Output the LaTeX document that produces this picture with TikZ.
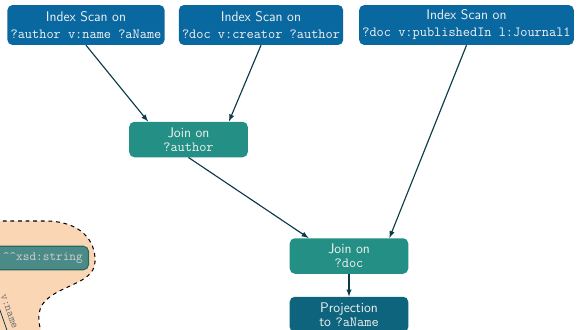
\documentclass[tikz,border=0pt,11pt]{standalone}
\usepackage{fontspec}
\usepackage{tikz}
\usetikzlibrary{arrows}

\definecolor{scanblue}{RGB}{10,104,160}
\definecolor{jointeal}{RGB}{36,143,133}
\definecolor{projteal}{RGB}{13,100,124}
\definecolor{litfill}{RGB}{74,138,135}
\definecolor{litdraw}{RGB}{40,105,100}
\definecolor{blobfill}{RGB}{250,214,180}
\definecolor{arrowteal}{RGB}{12,58,72}
\definecolor{boxtext}{RGB}{242,242,242}
\definecolor{labelgrey}{RGB}{120,120,120}
\def\code#1{\texttt{#1}}

\begin{document}
\begin{tikzpicture}[x=0.02773cm, y=-0.02773cm,
                    every node/.style = {shape=rectangle, rounded corners=4pt,
                      align=center, text=boxtext},
                    scanbox/.style = {fill=scanblue, inner xsep=2.5pt,
                      minimum height=31.5pt,
                      font=\sffamily\fontsize{11}{13.4}\selectfont},
                    joinbox/.style = {fill=jointeal, minimum width=93.5pt,
                      minimum height=28pt,
                      font=\sffamily\fontsize{11}{11.2}\selectfont},
                    projbox/.style = {joinbox, fill=projteal},
                    litbox/.style = {fill=litfill, draw=litdraw, line width=0.8pt,
                      inner xsep=4.5pt, inner ysep=5pt,
                      text width=80pt, align=right,
                      font=\ttfamily\fontsize{10}{12}\selectfont,
                      text=boxtext!85!black},
                    flow/.style = {->, >=latex, draw=arrowteal, line width=0.9pt}]
  \useasboundingbox (0,0) rectangle (577,330);
  \clip (0,0) rectangle (577,330);

  % part of the data graph, bottom left
  \fill[blobfill] (-20,221) -- (45,221)
      .. controls (80,221) and (96,240) .. (95,262)
      .. controls (94,285) and (55,285) .. (42,305)
      .. controls (37,314) and (38,325) .. (44,340) -- (-20,340) -- cycle;
  \draw[dashed, line width=0.8pt] (-20,221) -- (45,221)
      .. controls (80,221) and (96,240) .. (95,262)
      .. controls (94,285) and (55,285) .. (42,305)
      .. controls (37,314) and (38,325) .. (44,340);
  \node[litbox, anchor=east] (lit) at (89,258) {\textasciicircum\textasciicircum xsd:string};
  \coordinate (vtop) at (-20,253);
  \coordinate (vbot) at (9,336);
  \draw[arrowteal, line width=0.6pt] (vtop) -- (vbot)
      node[pos=0.74, sloped, above, inner sep=4pt, text=labelgrey,
           font=\ttfamily\fontsize{9}{11}\selectfont] {v:name};

  % query plan
  \node[scanbox] (scanA) at (86,25)    {Index Scan on\\\code{?author v:name ?aName}};
  \node[scanbox] (scanB) at (261,25)   {Index Scan on\\\code{?doc v:creator ?author}};
  \node[scanbox] (scanC) at (466.5,25) {Index Scan on\\\code{?doc v:publishedIn l:Journal1}};
  \node[joinbox] (joinA) at (188.5,139.5) {Join on\\\code{?author}};
  \node[joinbox] (joinB) at (349,256)     {Join on\\\code{?doc}};
  \node[projbox] (proj)  at (349,314.5)   {Projection\\to \code{?aName}};

  \draw[flow] (scanA.south) -- (joinA.156);
  \draw[flow] (scanB.south) -- (joinA.24);
  \draw[flow] (scanC.south) -- (joinB.24);
  \draw[flow] (joinA.south) -- (joinB.156);
  \draw[flow] (joinB) -- (proj);
\end{tikzpicture}
\end{document}
